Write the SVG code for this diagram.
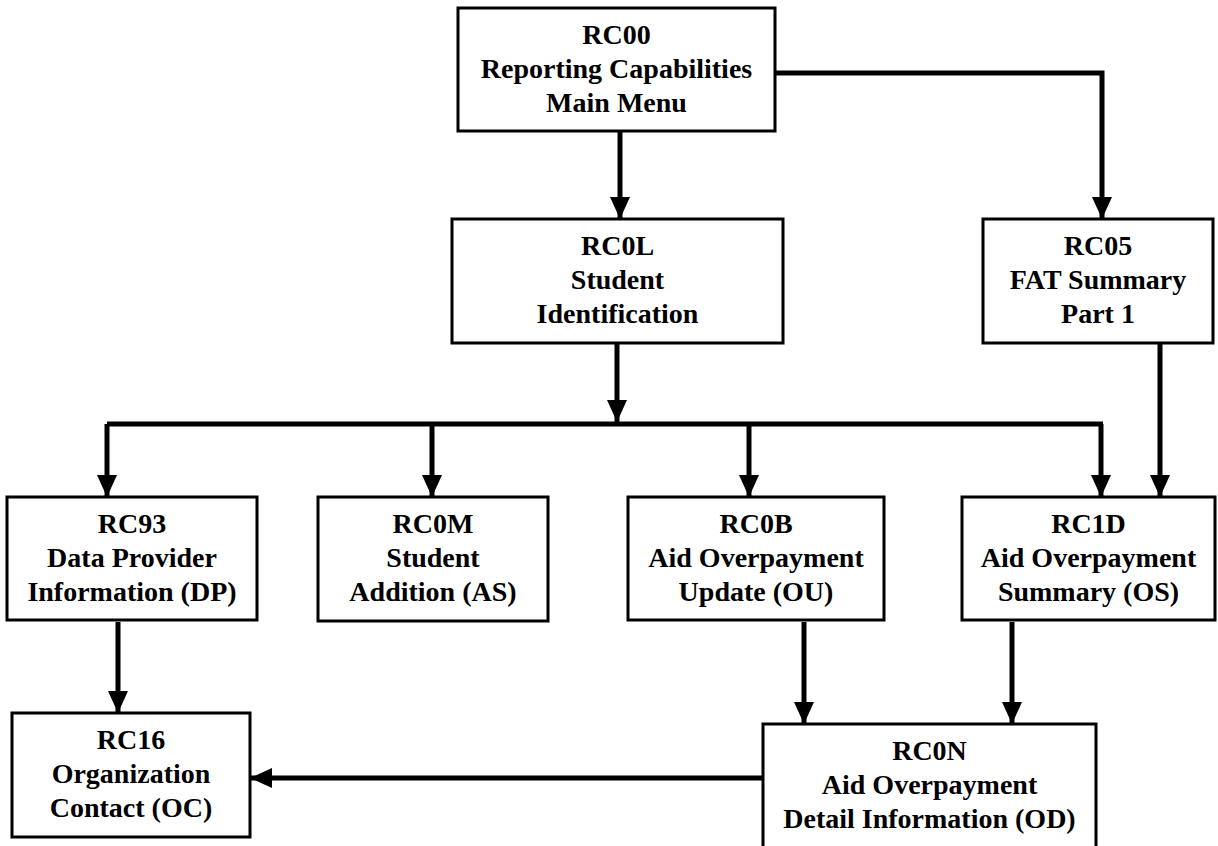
<svg xmlns="http://www.w3.org/2000/svg" width="1218" height="846" viewBox="0 0 1218 846">
<style>
.box{fill:#fff;stroke:#000;stroke-width:3}
.lbl{font-family:"Liberation Serif","Times New Roman",serif;font-weight:bold;font-size:28px;text-anchor:middle;fill:#000}
.c{fill:none;stroke:#000;stroke-width:5}
.ca{fill:none;stroke:#000;stroke-width:5;marker-end:url(#ah)}
</style>
<defs>
<marker id="ah" viewBox="0 0 22 20" refX="22" refY="10" markerWidth="22" markerHeight="20" markerUnits="userSpaceOnUse" orient="auto">
<path d="M0,0 L22,10 L0,20 z" fill="#000"/>
</marker>
</defs>
<rect width="1218" height="846" fill="#fff"/>
<g id="connectors">
<path class="ca" d="M620,131 L620,219"/>
<path class="ca" d="M775,73 L1102,73 L1102,219"/>
<path class="ca" d="M617,343 L617,422"/>
<path class="c" d="M107,424 L1103,424"/>
<path class="ca" d="M107,424 L107,497"/>
<path class="ca" d="M432,424 L432,497"/>
<path class="ca" d="M749,424 L749,497"/>
<path class="ca" d="M1101,424 L1101,497"/>
<path class="ca" d="M1160,343 L1160,497"/>
<path class="ca" d="M118,622 L118,713"/>
<path class="ca" d="M804,622 L804,724"/>
<path class="ca" d="M1012,622 L1012,724"/>
<path class="ca" d="M763,778 L250,778"/>
</g>
<g id="RC00">
<rect class="box" x="458" y="8" width="317" height="123"/>
<text class="lbl" x="616.5" y="44">RC00</text>
<text class="lbl" x="616.5" y="78">Reporting Capabilities</text>
<text class="lbl" x="616.5" y="112">Main Menu</text>
</g>
<g id="RC0L">
<rect class="box" x="452" y="219" width="331" height="124"/>
<text class="lbl" x="617.5" y="255">RC0L</text>
<text class="lbl" x="617.5" y="289">Student</text>
<text class="lbl" x="617.5" y="323">Identification</text>
</g>
<g id="RC05">
<rect class="box" x="983" y="219" width="230" height="124"/>
<text class="lbl" x="1098" y="255">RC05</text>
<text class="lbl" x="1098" y="289">FAT Summary</text>
<text class="lbl" x="1098" y="323">Part 1</text>
</g>
<g id="RC93">
<rect class="box" x="7" y="497" width="250" height="123"/>
<text class="lbl" x="132" y="533">RC93</text>
<text class="lbl" x="132" y="567">Data Provider</text>
<text class="lbl" x="132" y="601">Information (DP)</text>
</g>
<g id="RC0M">
<rect class="box" x="318" y="497" width="230" height="124"/>
<text class="lbl" x="433" y="533">RC0M</text>
<text class="lbl" x="433" y="567">Student</text>
<text class="lbl" x="433" y="601">Addition (AS)</text>
</g>
<g id="RC0B">
<rect class="box" x="628" y="497" width="256" height="123"/>
<text class="lbl" x="756" y="533">RC0B</text>
<text class="lbl" x="756" y="567">Aid Overpayment</text>
<text class="lbl" x="756" y="601">Update (OU)</text>
</g>
<g id="RC1D">
<rect class="box" x="962" y="497" width="253" height="123"/>
<text class="lbl" x="1088.5" y="533">RC1D</text>
<text class="lbl" x="1088.5" y="567">Aid Overpayment</text>
<text class="lbl" x="1088.5" y="601">Summary (OS)</text>
</g>
<g id="RC16">
<rect class="box" x="12" y="713" width="238" height="124"/>
<text class="lbl" x="131" y="749">RC16</text>
<text class="lbl" x="131" y="783">Organization</text>
<text class="lbl" x="131" y="817">Contact (OC)</text>
</g>
<g id="RC0N">
<rect class="box" x="763" y="724" width="333" height="126"/>
<text class="lbl" x="929.5" y="760">RC0N</text>
<text class="lbl" x="929.5" y="794">Aid Overpayment</text>
<text class="lbl" x="929.5" y="828">Detail Information (OD)</text>
</g>
</svg>
